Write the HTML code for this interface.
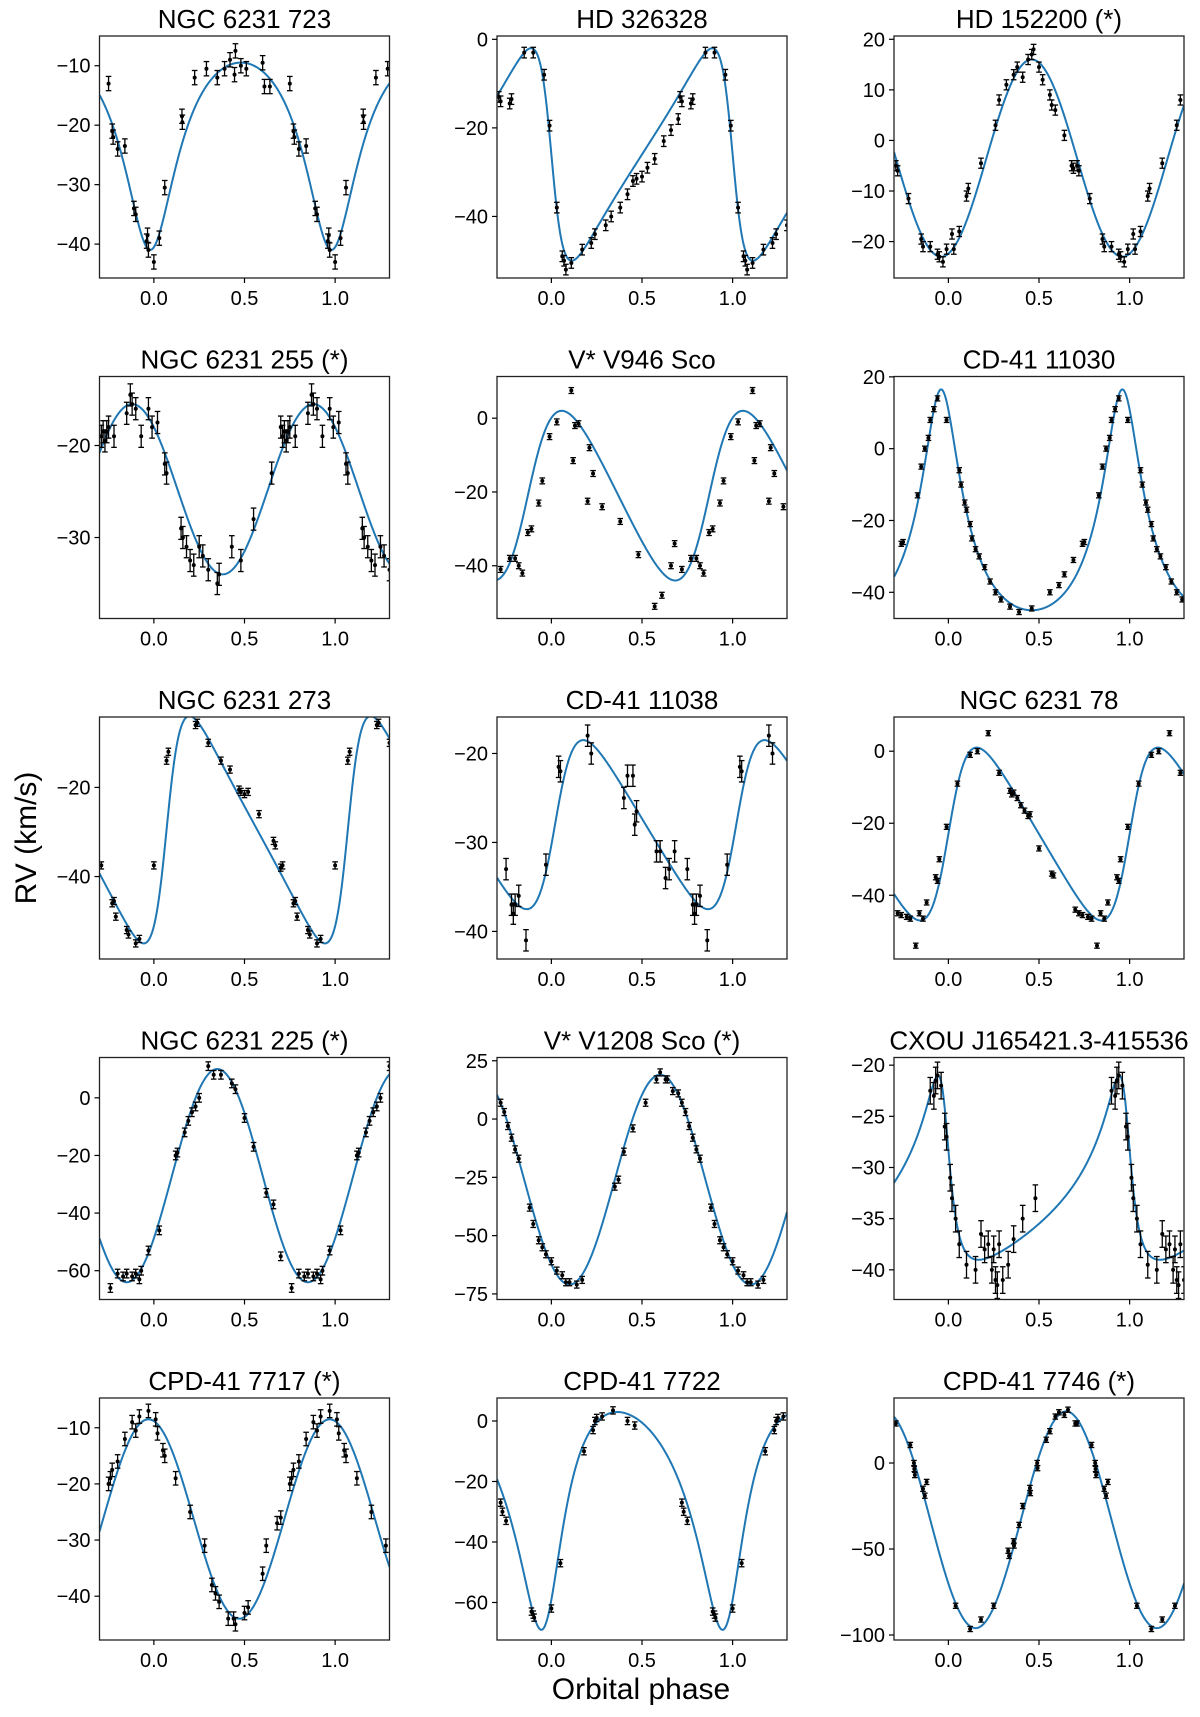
<!DOCTYPE html>
<html><head><meta charset="utf-8"><style>
html,body{margin:0;padding:0;background:#fff;}
svg{display:block;font-family:"Liberation Sans","DejaVu Sans",sans-serif;}
</style></head><body>
<svg id="fig" width="1200" height="1717" viewBox="0 0 1200 1717" xmlns="http://www.w3.org/2000/svg">
<text x="36" y="838" font-size="30" text-anchor="middle" transform="rotate(-90 36 838)">RV (km/s)</text>
<text x="641" y="1699" font-size="30" text-anchor="middle">Orbital phase</text>
</svg>
<script>
const titles=["NGC 6231 723","HD 326328","HD 152200 (*)","NGC 6231 255 (*)","V* V946 Sco","CD-41 11030","NGC 6231 273","CD-41 11038","NGC 6231 78","NGC 6231 225 (*)","V* V1208 Sco (*)","CXOU J165421.3-415536","CPD-41 7717 (*)","CPD-41 7722","CPD-41 7746 (*)"];
const yMins=[-45.7,-53.9,-27.2,-38.8,-54.3,-47.3,-58.5,-43.1,-57.7,-70,-77.4,-42.9,-47.8,-72.4,-102.9];
const yMaxs=[-5,0.75,20.65,-12.5,11.3,20.1,-4.2,-15.9,9.5,14,26.4,-19.25,-4.7,7.6,37.8];
const yTicks=[[-40,-30,-20,-10],[-40,-20,0],[-20,-10,0,10,20],[-30,-20],[-40,-20,0],[-40,-20,0,20],[-40,-20],[-40,-30,-20],[-40,-20,0],[-60,-40,-20,0],[-75,-50,-25,0,25],[-40,-35,-30,-25,-20],[-40,-30,-20,-10],[-60,-40,-20,0],[-100,-50,0]];
const xTicks=[0,0.5,1.0];
const xTickLabels=["0.0","0.5","1.0"];
// orbital fit parameters
const gammas=[-20.5,-26,-3.5,-24.75,-21,-26.55,-29.5,-28,-23,-27,-26,-33.2,-26.25,-21.2,-33];
const Ks=[15.75,24,19.5,9.25,23,30.75,25.5,9.5,24,37,45,9,17.75,36,63];
const eccs=[0.3,0.45,0,0,0.2,0.4,0.4,0.3,0.3,0,0,0.55,0,0.35,0];
const omegas=[180,90,0,0,270,0,270,270,270,0,0,50,0,200,0];
const T0s=[0.98,0.0,0.46,0.88,0.87,0.96,0.07,0.02,0.0,0.35,0.6,0.98,0.97,0.97,0.65];
const errs=[1.2,1.2,1,1.2,0.8,0.7,0.8,1.2,0.7,1.5,1.5,1.3,1.2,1.2,1.5];
// observed phases and RVs
const ph1=[0.75,0.77,0.775,0.80,0.84,0.89,0.90,0.96,0.965,0.97,0.0,0.03,0.06,0.155,0.157,0.225,0.29,0.35,0.39,0.42,0.445,0.45,0.48,0.51,0.60,0.61,0.64];
const rv1=[-13,-21,-22,-24,-23.5,-34,-35,-39.5,-38.5,-41,-43,-39,-30.5,-18.5,-19.5,-12,-10.5,-12,-10.5,-9,-11.5,-7.5,-10,-10.5,-9.5,-13.5,-13.5];
const ph2=[0.71,0.72,0.85,0.90,0.96,0.99,0.03,0.06,0.07,0.08,0.11,0.17,0.22,0.24,0.3,0.33,0.38,0.42,0.45,0.47,0.5,0.53,0.57,0.62,0.66,0.7,0.77,0.78];
const rv2=[-13,-14,-3,-3,-8,-19.5,-38,-49,-50,-52,-50.5,-47.5,-46,-44,-42,-40,-38,-35,-32,-31.5,-31,-29,-27,-23,-20.5,-18,-14.5,-13.5];
const ph3=[0.71,0.72,0.78,0.85,0.86,0.9,0.94,0.95,0.97,0.99,0.02,0.03,0.06,0.1,0.11,0.18,0.26,0.28,0.32,0.36,0.38,0.41,0.44,0.46,0.47,0.5,0.52,0.56,0.57,0.59,0.64,0.68,0.69];
const rv3=[-5,-6,-11.5,-19.5,-21,-21,-22.5,-23,-24,-21.5,-18.5,-21.5,-18,-11,-9.5,-4.5,3,8,11,13,14.5,12.5,16,17,18,14.5,12,9,7,6,1,-5,-5.5];
const ph4=[0.7,0.71,0.72,0.73,0.78,0.85,0.87,0.88,0.9,0.93,0.97,0.99,0.02,0.06,0.07,0.15,0.16,0.18,0.2,0.22,0.25,0.27,0.3,0.35,0.36,0.43,0.48,0.55,0.65,0.74,0.75];
const rv4=[-18,-19,-18.5,-19.5,-19,-16.5,-14.5,-15.5,-16,-19,-16,-18,-17.5,-22,-23,-29,-30,-31,-32.5,-33,-31,-32,-33.5,-35,-34,-31,-32.5,-28,-23,-18.5,-18];
const ph5=[0.8,0.82,0.84,0.87,0.89,0.93,0.95,0.99,0.03,0.11,0.12,0.13,0.15,0.2,0.21,0.23,0.28,0.38,0.48,0.57,0.61,0.66,0.68,0.72,0.77];
const rv5=[-38,-40,-42,-31,-30,-23,-17,-5,-1,7.5,-11.5,-2,-1.5,-22.5,-8,-15,-24,-28,-37,-51,-48,-40,-34,-41,-38];
const ph6=[0.74,0.75,0.83,0.85,0.87,0.89,0.9,0.92,0.94,0.99,0.06,0.07,0.09,0.1,0.12,0.13,0.15,0.17,0.2,0.23,0.26,0.29,0.34,0.39,0.46,0.56,0.61,0.64,0.69];
const rv6=[-26.5,-26,-13,-5,0,3,8,11,14,8,-6,-10,-15,-17,-21,-25,-28,-30,-33,-37,-40,-42,-44,-45.5,-44.5,-40,-38,-35,-31];
const ph7=[0.7,0.71,0.77,0.78,0.79,0.85,0.86,0.9,0.92,0.0,0.07,0.08,0.23,0.24,0.3,0.37,0.42,0.47,0.48,0.5,0.52,0.58,0.66,0.67];
const rv7=[-38,-37.5,-46,-45.5,-49,-52,-53,-55,-54,-37.5,-14,-12,-6,-5.5,-10,-14,-16,-20.5,-21,-21.5,-21,-26,-32,-33];
const ph8=[0.75,0.78,0.79,0.8,0.82,0.86,0.97,0.04,0.05,0.2,0.22,0.4,0.42,0.45,0.46,0.47,0.58,0.6,0.63,0.65,0.68];
const rv8=[-33,-37,-38,-37,-36,-41,-32.5,-21.5,-22,-18,-20,-25,-22.5,-22.5,-28,-26.5,-31,-31,-34,-33,-31];
const ph9=[0.7,0.72,0.74,0.77,0.79,0.82,0.84,0.86,0.88,0.93,0.94,0.95,0.99,0.05,0.12,0.16,0.22,0.28,0.34,0.35,0.36,0.38,0.4,0.42,0.44,0.45,0.5,0.57,0.58];
const rv9=[-44,-45,-45.5,-46,-46.5,-54,-45,-46.5,-42,-35,-36,-30,-21,-9,-1,0,5,-6,-11,-12,-11.5,-13,-15,-16.5,-18,-17.5,-27,-34,-34.5];
const ph10=[0.7,0.76,0.8,0.83,0.85,0.88,0.9,0.92,0.93,0.97,0.03,0.12,0.13,0.17,0.19,0.21,0.23,0.25,0.3,0.33,0.37,0.43,0.45,0.5,0.55,0.62,0.66];
const rv10=[-55,-66,-61,-62,-61,-62,-61,-63,-60,-53,-46,-20,-19,-12,-8,-5,-3,0,11,8,8,5,3,-7,-17,-33,-37];
const ph11=[0.7,0.72,0.74,0.76,0.78,0.8,0.82,0.88,0.9,0.93,0.95,0.97,0.0,0.03,0.06,0.08,0.1,0.14,0.17,0.35,0.37,0.4,0.45,0.52,0.58,0.6,0.63,0.64,0.67];
const rv11=[11,7,3,-3,-8,-13,-17,-38,-45,-52,-55,-58,-61,-65,-67,-70,-70,-71,-69,-29,-26,-14,-4,7,17,20,17,17,12];
const ph12=[0.9,0.92,0.93,0.94,0.96,0.98,0.99,0.01,0.02,0.04,0.06,0.1,0.15,0.18,0.2,0.22,0.24,0.25,0.26,0.27,0.28,0.3,0.33,0.36,0.41,0.48];
const rv12=[-22.5,-23,-21.5,-21,-22,-26,-27,-31,-33,-35,-37.5,-39.5,-40,-36.5,-38,-37.5,-40,-38,-41,-41.5,-37.5,-41,-39.5,-37,-35,-33];
const ph13=[0.7,0.75,0.76,0.77,0.8,0.84,0.88,0.9,0.92,0.97,0.01,0.02,0.05,0.06,0.12,0.2,0.28,0.32,0.34,0.36,0.41,0.44,0.45,0.5,0.52,0.6,0.62,0.68];
const rv13=[-26,-20,-19,-17.5,-16,-12,-9,-10.5,-8,-7,-8.5,-11,-14,-15,-19,-25,-31,-38,-39.5,-41,-44,-44,-45,-43,-42,-36,-31,-27];
const ph14=[0.72,0.73,0.75,0.89,0.9,0.905,0.0,0.05,0.18,0.23,0.24,0.25,0.28,0.34,0.42,0.46];
const rv14=[-27,-30,-33,-63,-64,-65,-62,-47,-10,-3,0,1,1.5,3.5,0,-1.5];
const ph15=[0.71,0.79,0.81,0.812,0.815,0.86,0.87,0.88,0.04,0.12,0.18,0.25,0.33,0.335,0.36,0.362,0.39,0.41,0.45,0.452,0.49,0.492,0.54,0.56,0.59,0.61,0.64,0.66,0.7];
const rv15=[23,10.5,0,-3.5,-7,-15,-19,-11,-83,-96.5,-91,-83,-51,-54,-45.5,-48,-36,-25,-14.5,-17.5,0,-3,13.5,18.5,27,29.5,28,31,23];
const phases=[ph1,ph2,ph3,ph4,ph5,ph6,ph7,ph8,ph9,ph10,ph11,ph12,ph13,ph14,ph15];
const rvs=[rv1,rv2,rv3,rv4,rv5,rv6,rv7,rv8,rv9,rv10,rv11,rv12,rv13,rv14,rv15];

const NS="http://www.w3.org/2000/svg";
const svg=document.getElementById('fig');
const colLeft=[99.5,497,894], rowTop=[36,376.5,717,1057.5,1398], W=290, H=242;
const X0=-0.3, X1=1.3;
function mk(tag,attrs,parent){const e=document.createElementNS(NS,tag);for(const k in attrs)e.setAttribute(k,attrs[k]);(parent||svg).appendChild(e);return e;}
function fmt(v){return v<0?'\u2212'+Math.abs(v):String(v);}
function kepler(i,phi){
  const e=eccs[i], w=omegas[i]*Math.PI/180;
  let M=2*Math.PI*(phi-T0s[i]);
  let E=M;
  for(let k=0;k<30;k++){E=E-(E-e*Math.sin(E)-M)/(1-e*Math.cos(E));}
  const nu=2*Math.atan2(Math.sqrt(1+e)*Math.sin(E/2),Math.sqrt(1-e)*Math.cos(E/2));
  return gammas[i]+Ks[i]*(Math.cos(nu+w)+e*Math.cos(w));
}
for(let i=0;i<15;i++){
  const L=colLeft[i%3], T=rowTop[Math.floor(i/3)];
  const xs=p=>L+(p-X0)/(X1-X0)*W;
  const ys=v=>T+(yMaxs[i]-v)/(yMaxs[i]-yMins[i])*H;
  const g=mk('g',{});
  
  
  const t=mk('text',{x:L+W/2,y:T-8,'font-size':26,'text-anchor':'middle'},g);
  t.textContent=titles[i];
  
  
  const cp=mk('clipPath',{id:'c'+i},g);
  mk('rect',{x:L,y:T,width:W,height:H},cp);
  let d='';
  for(let k=0;k<=400;k++){const p=X0+(X1-X0)*k/400;d+=(k?'L':'M')+xs(p).toFixed(2)+','+ys(kepler(i,p)).toFixed(2);}
  const c=mk('path',{d:d,fill:'none',stroke:'#1f77b4','stroke-width':2,'clip-path':'url(#c'+i+')'},g);
  
  
  const ph=phases[i], rv=rvs[i], er=errs[i];
  for(let j=0;j<ph.length;j++){
    for(const sh of [-1,0,1]){
      const p=ph[j]+sh;
      if(p<X0||p>X1)continue;
      const x=xs(p), y=ys(rv[j]), y1=ys(rv[j]+er), y2=ys(rv[j]-er);
      const pg=mk('g',{stroke:'#000','stroke-width':1.3,'clip-path':'url(#c'+i+')'},g);
      
      
      mk('line',{x1:x,y1:y1,x2:x,y2:y2},pg);
      mk('line',{x1:x-2.8,y1:y1,x2:x+2.8,y2:y1},pg);
      mk('line',{x1:x-2.8,y1:y2,x2:x+2.8,y2:y2},pg);
      mk('circle',{cx:x,cy:y,r:2,fill:'#000',stroke:'none'},pg);
    }
  }
  const f=mk('rect',{x:L,y:T,width:W,height:H,fill:'none',stroke:'#222','stroke-width':1.3},g);
  
  
  xTicks.forEach((v,k)=>{
    const x=xs(v);
    mk('line',{x1:x,y1:T+H,x2:x,y2:T+H+5,stroke:'#000','stroke-width':1.2},g);
    const tl=mk('text',{x:x,y:T+H+27,'font-size':20,'text-anchor':'middle'},g);
    tl.textContent=xTickLabels[k];
    
    
  });
  yTicks[i].forEach(v=>{
    const y=ys(v);
    mk('line',{x1:L-5,y1:y,x2:L,y2:y,stroke:'#000','stroke-width':1.2},g);
    const tl=mk('text',{x:L-9,y:y+7,'font-size':20,'text-anchor':'end'},g);
    tl.textContent=fmt(v);
    
    
  });
}
</script>
</body></html>
